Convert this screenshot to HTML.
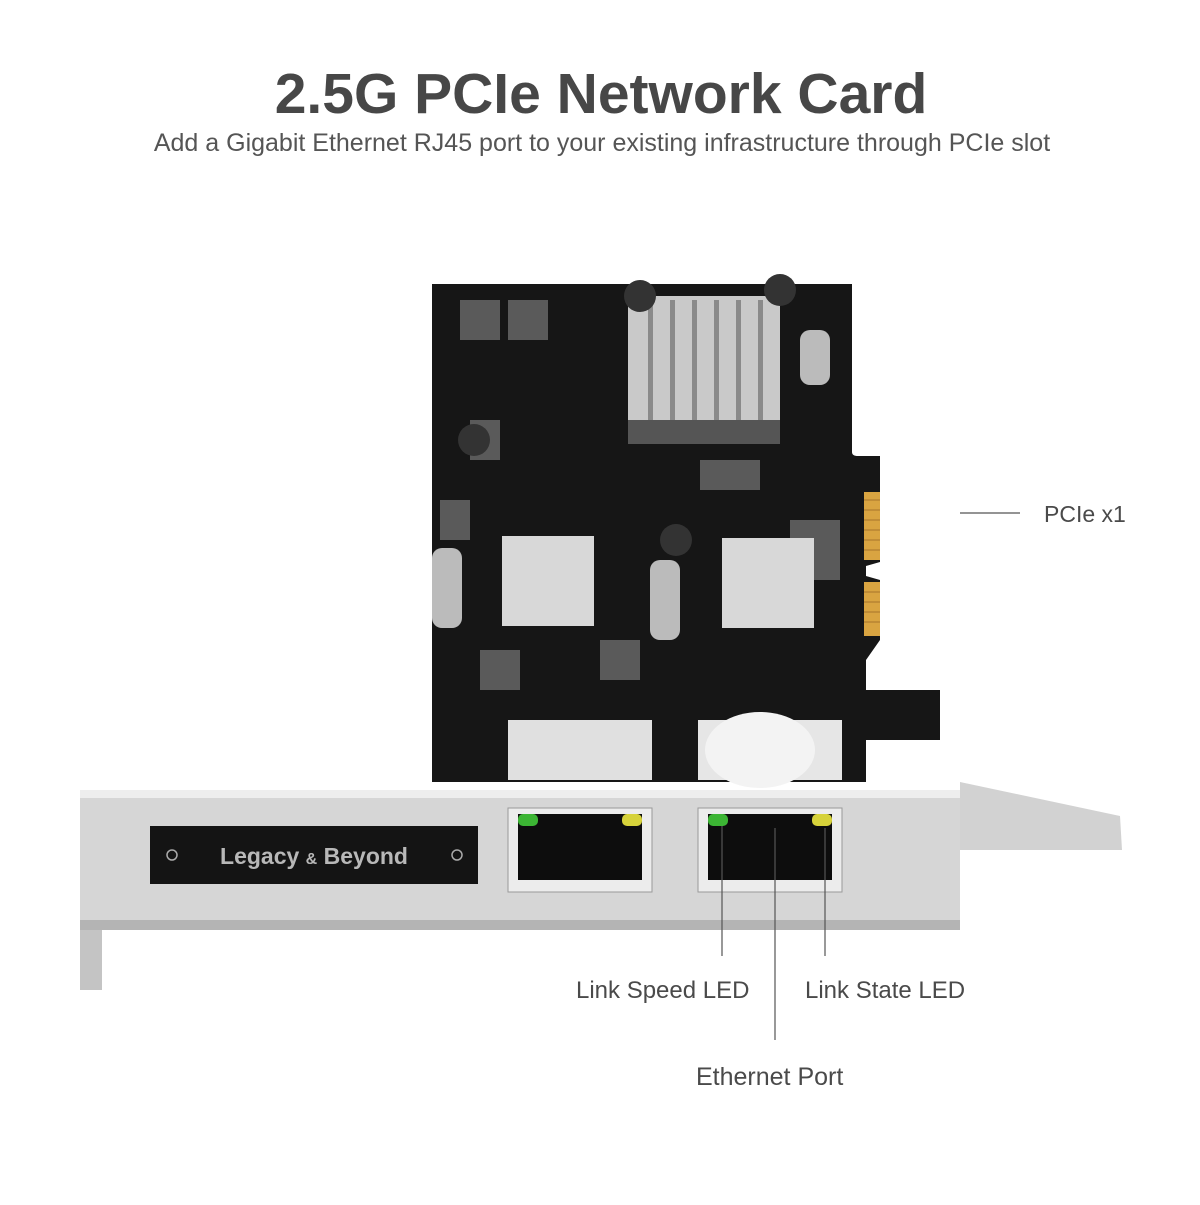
<!DOCTYPE html>
<html><head><style>
body{margin:0;background:#fff;width:1200px;height:1200px;overflow:hidden;font-family:"Liberation Sans",sans-serif}
</style></head><body>
<svg width="1200" height="1200" viewBox="0 0 1200 1200" xmlns="http://www.w3.org/2000/svg">
<text x="601" y="113" text-anchor="middle" font-family="Liberation Sans" font-weight="bold" font-size="57" fill="#474747">2.5G PCIe Network Card</text>
<text x="602" y="151" text-anchor="middle" font-family="Liberation Sans" font-size="25" fill="#555">Add a Gigabit Ethernet RJ45 port to your existing infrastructure through PCIe slot</text>
<!-- PCB -->
<path d="M432 284 L852 284 L852 452 Q852 456 858 456 L880 456 L880 562 L866 566 L866 576 L880 580 L880 640 L866 660 L866 690 L940 690 L940 740 L866 740 L866 782 L432 782 Z" fill="#161616"/>
<rect x="864" y="492" width="16" height="68" fill="#d9a441"/>
<rect x="864" y="582" width="16" height="54" fill="#d9a441"/>
<g stroke="#a8742a" stroke-width="1">
<line x1="864" y1="500" x2="880" y2="500"/><line x1="864" y1="510" x2="880" y2="510"/><line x1="864" y1="520" x2="880" y2="520"/><line x1="864" y1="530" x2="880" y2="530"/><line x1="864" y1="540" x2="880" y2="540"/><line x1="864" y1="550" x2="880" y2="550"/>
<line x1="864" y1="592" x2="880" y2="592"/><line x1="864" y1="602" x2="880" y2="602"/><line x1="864" y1="612" x2="880" y2="612"/><line x1="864" y1="622" x2="880" y2="622"/>
</g>
<g fill="#5a5a5a">
<rect x="460" y="300" width="40" height="40"/><rect x="508" y="300" width="40" height="40"/>
<rect x="470" y="420" width="30" height="40"/><rect x="440" y="500" width="30" height="40"/>
<rect x="700" y="460" width="60" height="30"/><rect x="790" y="520" width="50" height="60"/>
<rect x="600" y="640" width="40" height="40"/><rect x="480" y="650" width="40" height="40"/>
</g>
<rect x="628" y="296" width="152" height="148" fill="#c9c9c9"/>
<g fill="#8a8a8a"><rect x="648" y="300" width="5" height="144"/><rect x="670" y="300" width="5" height="144"/><rect x="692" y="300" width="5" height="144"/><rect x="714" y="300" width="5" height="144"/><rect x="736" y="300" width="5" height="144"/><rect x="758" y="300" width="5" height="144"/></g>
<rect x="628" y="420" width="152" height="24" fill="#555"/>
<rect x="502" y="536" width="92" height="90" fill="#d8d8d8"/>
<rect x="722" y="538" width="92" height="90" fill="#d8d8d8"/>
<circle cx="474" cy="440" r="16" fill="#333"/><circle cx="676" cy="540" r="16" fill="#333"/><circle cx="780" cy="290" r="16" fill="#333"/><circle cx="640" cy="296" r="16" fill="#333"/>
<rect x="432" y="548" width="30" height="80" rx="10" fill="#bbb"/><rect x="650" y="560" width="30" height="80" rx="10" fill="#bbb"/><rect x="800" y="330" width="30" height="55" rx="10" fill="#bbb"/>
<rect x="508" y="720" width="144" height="60" fill="#e0e0e0"/>
<rect x="698" y="720" width="144" height="60" fill="#e6e6e6"/>
<ellipse cx="760" cy="750" rx="55" ry="38" fill="#f3f3f3"/>
<!-- bracket -->
<path d="M960 782 L1120 816 L1122 850 L960 850 Z" fill="#d2d2d2"/>
<path d="M80 790 L960 790 L960 930 L80 930 Z" fill="#d6d6d6"/>
<rect x="80" y="790" width="880" height="8" fill="#eee"/>
<rect x="80" y="920" width="880" height="10" fill="#b4b4b4"/>
<rect x="80" y="930" width="22" height="60" fill="#c4c4c4"/>
<rect x="150" y="826" width="328" height="58" fill="#141414"/>
<circle cx="172" cy="855" r="5" fill="none" stroke="#aaa" stroke-width="1.5"/>
<circle cx="457" cy="855" r="5" fill="none" stroke="#aaa" stroke-width="1.5"/>
<text x="314" y="864" text-anchor="middle" font-family="Liberation Sans" font-weight="bold" font-size="23" fill="#b8b8b8">Legacy <tspan font-size="16">&amp;</tspan> Beyond</text>
<g>
<rect x="508" y="808" width="144" height="84" fill="#ececec" stroke="#999"/>
<rect x="518" y="814" width="124" height="66" fill="#0d0d0d"/>
<rect x="518" y="814" width="20" height="12" rx="5" fill="#3cb534"/>
<rect x="622" y="814" width="20" height="12" rx="5" fill="#d6d23a"/>
<rect x="698" y="808" width="144" height="84" fill="#ececec" stroke="#999"/>
<rect x="708" y="814" width="124" height="66" fill="#0d0d0d"/>
<rect x="708" y="814" width="20" height="12" rx="5" fill="#3cb534"/>
<rect x="812" y="814" width="20" height="12" rx="5" fill="#d6d23a"/>
</g>
<g stroke="#555" stroke-width="1.2">
<line x1="960" y1="513" x2="1020" y2="513"/>
<line x1="722" y1="826" x2="722" y2="956"/>
<line x1="825" y1="828" x2="825" y2="956"/>
<line x1="775" y1="828" x2="775" y2="1040"/>
</g>
<g font-family="Liberation Sans" fill="#4a4a4a">
<text x="1044" y="522" font-size="23">PCIe x1</text>
<text x="576" y="998" font-size="24">Link Speed LED</text>
<text x="805" y="998" font-size="24">Link State LED</text>
<text x="696" y="1085" font-size="25">Ethernet Port</text>
</g>
</svg>
</body></html>
